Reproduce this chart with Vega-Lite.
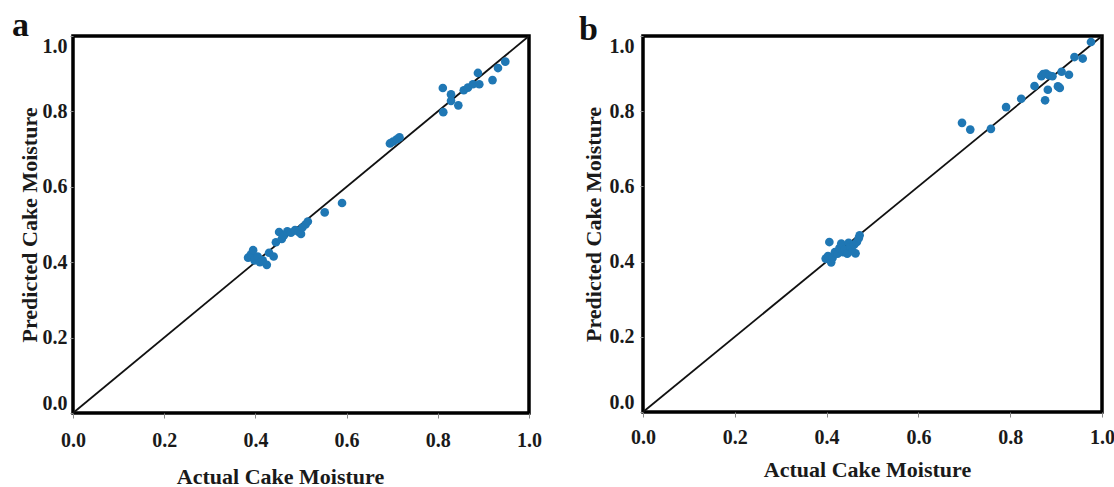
{
  "$schema": "https://vega.github.io/schema/vega-lite/v6.json",
  "background": "white",
  "padding": {"left": 10, "top": 7, "right": 0, "bottom": 0},
  "bounds": "flush",
  "spacing": 114,
  "config": {
    "view": {"stroke": "black", "strokeWidth": 3.5},
    "axis": {
      "labelFont": "Liberation Serif", "labelFontWeight": "bold", "labelFontSize": 20, "labelColor": "#1a1a1a",
      "titleFont": "Liberation Serif", "titleFontWeight": "bold", "titleFontSize": 22, "titleColor": "#1a1a1a",
      "grid": false, "domain": false, "tickColor": "#888888", "tickSize": 5
    },
    "title": {"font": "Liberation Serif", "fontWeight": "bold", "fontSize": 34, "color": "#111111", "anchor": "start", "frame": "group", "baseline": "alphabetic"}
  },
  "hconcat": [
    {
      "width": 456, "height": 377,
      "title": {"text": "a", "dx": -61, "offset": -11},
      "layer": [
        {
          "data": {"values": [{"actual": 0, "predicted": 0}, {"actual": 1, "predicted": 1}]},
          "mark": {"type": "line", "color": "#111111", "strokeWidth": 1.8},
          "encoding": {
            "x": {"field": "actual", "type": "quantitative", "scale": {"domain": [0, 1], "nice": false},
              "axis": {"values": [0, 0.2, 0.4, 0.6, 0.8, 1], "format": ".1f", "labelPadding": 12, "labelDx": 5, "labelFlush": false, "titlePadding": 16, "titleX": 207, "title": "Actual Cake Moisture"}},
            "y": {"field": "predicted", "type": "quantitative", "scale": {"domain": [0, 1], "nice": false},
              "axis": {"values": [0, 0.2, 0.4, 0.6, 0.8, 1], "format": ".1f", "labelFlush": true, "tickSize": 3, "labelPadding": 3, "titlePadding": 1, "title": "Predicted Cake Moisture"}}
          }
        },
        {
          "data": {"values": [
            {"actual": 0.384, "predicted": 0.412}, {"actual": 0.390, "predicted": 0.420}, {"actual": 0.395, "predicted": 0.432},
            {"actual": 0.398, "predicted": 0.405}, {"actual": 0.405, "predicted": 0.415}, {"actual": 0.410, "predicted": 0.400},
            {"actual": 0.416, "predicted": 0.405}, {"actual": 0.425, "predicted": 0.393}, {"actual": 0.430, "predicted": 0.425},
            {"actual": 0.440, "predicted": 0.415}, {"actual": 0.445, "predicted": 0.453}, {"actual": 0.452, "predicted": 0.480},
            {"actual": 0.458, "predicted": 0.462}, {"actual": 0.462, "predicted": 0.470}, {"actual": 0.470, "predicted": 0.482},
            {"actual": 0.478, "predicted": 0.478}, {"actual": 0.487, "predicted": 0.485}, {"actual": 0.495, "predicted": 0.480},
            {"actual": 0.500, "predicted": 0.475}, {"actual": 0.503, "predicted": 0.492}, {"actual": 0.510, "predicted": 0.500},
            {"actual": 0.515, "predicted": 0.508},
            {"actual": 0.552, "predicted": 0.532}, {"actual": 0.590, "predicted": 0.557},
            {"actual": 0.695, "predicted": 0.715}, {"actual": 0.702, "predicted": 0.720}, {"actual": 0.710, "predicted": 0.726}, {"actual": 0.716, "predicted": 0.731},
            {"actual": 0.811, "predicted": 0.862}, {"actual": 0.829, "predicted": 0.845}, {"actual": 0.829, "predicted": 0.828},
            {"actual": 0.845, "predicted": 0.816}, {"actual": 0.812, "predicted": 0.798}, {"actual": 0.857, "predicted": 0.856},
            {"actual": 0.866, "predicted": 0.863}, {"actual": 0.877, "predicted": 0.872}, {"actual": 0.888, "predicted": 0.902},
            {"actual": 0.891, "predicted": 0.872}, {"actual": 0.920, "predicted": 0.883}, {"actual": 0.932, "predicted": 0.915},
            {"actual": 0.948, "predicted": 0.932}
          ]},
          "mark": {"type": "circle", "size": 75, "color": "#1f77b4", "opacity": 1},
          "encoding": {
            "x": {"field": "actual", "type": "quantitative"},
            "y": {"field": "predicted", "type": "quantitative"}
          }
        }
      ]
    },
    {
      "width": 459, "height": 376,
      "title": {"text": "b", "dx": -64, "offset": -15},
      "layer": [
        {
          "data": {"values": [{"actual": 0, "predicted": 0}, {"actual": 1, "predicted": 1}]},
          "mark": {"type": "line", "color": "#111111", "strokeWidth": 1.8},
          "encoding": {
            "x": {"field": "actual", "type": "quantitative", "scale": {"domain": [0, 1], "nice": false},
              "axis": {"values": [0, 0.2, 0.4, 0.6, 0.8, 1], "format": ".1f", "labelPadding": 10, "labelDx": 5, "labelFlush": false, "titlePadding": 12, "titleX": 224, "title": "Actual Cake Moisture"}},
            "y": {"field": "predicted", "type": "quantitative", "scale": {"domain": [0, 1], "nice": false},
              "axis": {"values": [0, 0.2, 0.4, 0.6, 0.8, 1], "format": ".1f", "labelFlush": true, "tickSize": 3, "labelPadding": 6, "titlePadding": 4, "title": "Predicted Cake Moisture"}}
          }
        },
        {
          "data": {"values": [
            {"actual": 0.398, "predicted": 0.408}, {"actual": 0.403, "predicted": 0.415}, {"actual": 0.406, "predicted": 0.452},
            {"actual": 0.410, "predicted": 0.398}, {"actual": 0.413, "predicted": 0.410}, {"actual": 0.418, "predicted": 0.425},
            {"actual": 0.424, "predicted": 0.421}, {"actual": 0.428, "predicted": 0.436}, {"actual": 0.432, "predicted": 0.448},
            {"actual": 0.436, "predicted": 0.425}, {"actual": 0.440, "predicted": 0.432}, {"actual": 0.445, "predicted": 0.421},
            {"actual": 0.448, "predicted": 0.450}, {"actual": 0.452, "predicted": 0.438}, {"actual": 0.456, "predicted": 0.428},
            {"actual": 0.460, "predicted": 0.445}, {"actual": 0.463, "predicted": 0.422}, {"actual": 0.466, "predicted": 0.452},
            {"actual": 0.470, "predicted": 0.462}, {"actual": 0.472, "predicted": 0.470},
            {"actual": 0.695, "predicted": 0.769}, {"actual": 0.713, "predicted": 0.751}, {"actual": 0.758, "predicted": 0.753},
            {"actual": 0.791, "predicted": 0.811}, {"actual": 0.824, "predicted": 0.833}, {"actual": 0.853, "predicted": 0.867},
            {"actual": 0.868, "predicted": 0.893}, {"actual": 0.872, "predicted": 0.899}, {"actual": 0.878, "predicted": 0.900},
            {"actual": 0.885, "predicted": 0.895}, {"actual": 0.892, "predicted": 0.893}, {"actual": 0.876, "predicted": 0.829},
            {"actual": 0.882, "predicted": 0.857}, {"actual": 0.904, "predicted": 0.866}, {"actual": 0.908, "predicted": 0.862},
            {"actual": 0.912, "predicted": 0.905}, {"actual": 0.928, "predicted": 0.897}, {"actual": 0.940, "predicted": 0.944},
            {"actual": 0.958, "predicted": 0.940}, {"actual": 0.976, "predicted": 0.984}
          ]},
          "mark": {"type": "circle", "size": 75, "color": "#1f77b4", "opacity": 1},
          "encoding": {
            "x": {"field": "actual", "type": "quantitative"},
            "y": {"field": "predicted", "type": "quantitative"}
          }
        }
      ]
    }
  ]
}
